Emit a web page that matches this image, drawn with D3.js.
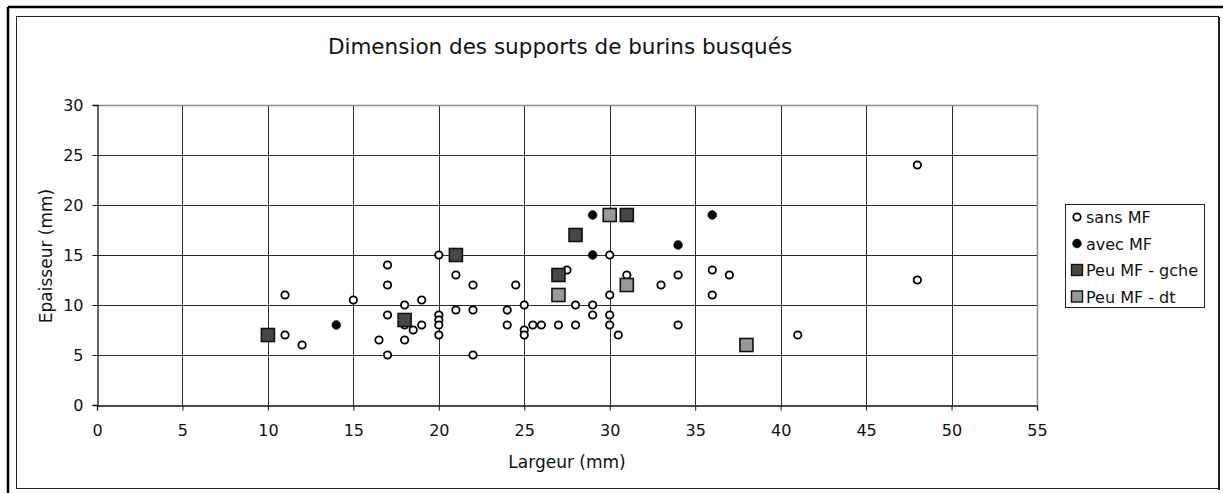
<!DOCTYPE html>
<html>
<head>
<meta charset="utf-8">
<script src="https://cdn.jsdelivr.net/npm/d3@7"></script>
<style>
  html, body { margin: 0; padding: 0; background: #fff; }
  svg { display: block; }
  text { font-family: "DejaVu Sans", Verdana, sans-serif; fill: #111; }
</style>
</head>
<body>
<svg id="chart" width="1223" height="493"></svg>
<script>
// Largeur / épaisseur (mm) des supports de burins busqués, par groupe
const sansMF = [
  [11, 11], [11, 7], [12, 6], [15, 10.5], [16.5, 6.5], [17, 14], [17, 12], [17, 9], [17, 5],
  [18, 10], [18, 8], [18, 6.5], [18.5, 7.5], [19, 10.5], [19, 8], [20, 15], [20, 9], [20, 8.5],
  [20, 8], [20, 7], [21, 13], [21, 9.5], [22, 12], [22, 9.5], [22, 5], [24, 9.5], [24, 8],
  [24.5, 12], [25, 10], [25, 7.5], [25, 7], [25.5, 8], [26, 8], [27, 8], [27.5, 13.5], [28, 10],
  [28, 8], [29, 10], [29, 9], [30, 15], [30, 11], [30, 9], [30, 8], [30.5, 7], [31, 13],
  [33, 12], [34, 13], [34, 8], [36, 13.5], [36, 11], [37, 13], [41, 7], [48, 24], [48, 12.5]
];
const avecMF = [[14, 8], [29, 19], [29, 15], [34, 16], [36, 19]];
const peuMFgche = [[10, 7], [18, 8.5], [21, 15], [27, 13], [28, 17], [31, 19]];
const peuMFdt = [[27, 11], [30, 19], [31, 12], [38, 6]];

const seriesNames = ["sans MF", "avec MF", "Peu MF - gche", "Peu MF - dt"];
const xTicks = [0, 5, 10, 15, 20, 25, 30, 35, 40, 45, 50, 55];
const yTicks = [0, 5, 10, 15, 20, 25, 30];

const titleText = "Dimension des supports de burins busqués";
const xTitle = "Largeur (mm)";
const yTitle = "Epaisseur (mm)";

const svg = d3.select("#chart");

// frame around the chart
svg.append("line").attr("x1", 8).attr("x2", 1223).attr("y1", 7).attr("y2", 7)
  .attr("stroke", "#000").attr("stroke-width", 2.5);
svg.append("line").attr("x1", 8).attr("x2", 8).attr("y1", 7).attr("y2", 493)
  .attr("stroke", "#000").attr("stroke-width", 2.5);
svg.append("rect").attr("x", 16.5).attr("y", 16.5).attr("width", 1202).attr("height", 472)
  .attr("fill", "#fff").attr("stroke", "#222").attr("stroke-width", 1);
svg.append("line").attr("x1", 1219).attr("x2", 1219).attr("y1", 17).attr("y2", 490)
  .attr("stroke", "#222").attr("stroke-width", 2);

const plot = { left: 97, right: 1037, top: 105, bottom: 405 };

const x = d3.scaleLinear().domain([0, 55]).range([plot.left, plot.right]);
const y = d3.scaleLinear().domain([0, 30]).range([plot.bottom, plot.top]);

// gridlines
const grid = svg.append("g");
grid.selectAll("line.v").data(xTicks.filter(t => t > 0 && t < 55)).join("line")
  .attr("x1", d => Math.round(x(d)) + 0.5).attr("x2", d => Math.round(x(d)) + 0.5)
  .attr("y1", plot.top).attr("y2", plot.bottom)
  .attr("stroke", "#2a2a2a").attr("stroke-width", 1);
grid.selectAll("line.h").data(yTicks.filter(t => t > 0 && t < 30)).join("line")
  .attr("x1", plot.left).attr("x2", plot.right)
  .attr("y1", d => Math.round(y(d)) + 0.5).attr("y2", d => Math.round(y(d)) + 0.5)
  .attr("stroke", "#2a2a2a").attr("stroke-width", 1);

// plot area border (top / right)
svg.append("line").attr("x1", plot.left).attr("x2", plot.right + 0.5)
  .attr("y1", plot.top + 0.5).attr("y2", plot.top + 0.5).attr("stroke", "#8c8c8c").attr("stroke-width", 1.5);
svg.append("line").attr("x1", plot.right + 0.5).attr("x2", plot.right + 0.5)
  .attr("y1", plot.top).attr("y2", plot.bottom).attr("stroke", "#8c8c8c").attr("stroke-width", 1.5);

// axes
const xAxis = d3.axisBottom(x).tickValues(xTicks).tickSize(5).tickPadding(14).tickFormat(d3.format("d"));
const yAxis = d3.axisLeft(y).tickValues(yTicks).tickSize(5).tickPadding(9).tickFormat(d3.format("d"));

const gx = svg.append("g").attr("transform", `translate(0,${plot.bottom + 0.5})`).call(xAxis);
const gy = svg.append("g").attr("transform", `translate(${plot.left + 0.5},0)`).call(yAxis);
[gx, gy].forEach(g => {
  g.select(".domain").attr("stroke", "#111").attr("stroke-width", 1.3);
  g.selectAll(".tick line").attr("stroke", "#111");
  g.selectAll(".tick text").attr("font-size", 16).attr("fill", "#222")
    .attr("font-family", "'DejaVu Sans', Verdana, sans-serif");
});

// titles
svg.append("text").attr("x", 560).attr("y", 54).attr("text-anchor", "middle")
  .attr("font-size", 21.5).text(titleText);
svg.append("text").attr("x", 567).attr("y", 468).attr("text-anchor", "middle")
  .attr("font-size", 17).attr("fill", "#222").text(xTitle);
svg.append("text").attr("transform", "translate(52,256) rotate(-90)").attr("text-anchor", "middle")
  .attr("font-size", 17).attr("fill", "#222").text(yTitle);

// point styles
const styles = [
  { type: "circle", r: 3.7, fill: "#fff", stroke: "#000", sw: 1.8 },
  { type: "circle", r: 4.4, fill: "#000", stroke: "#000", sw: 0.5 },
  { type: "square", s: 13, fill: "#474747", stroke: "#111", sw: 1.6 },
  { type: "square", s: 13, fill: "#999", stroke: "#111", sw: 1.6 }
];
const allSeries = [sansMF, avecMF, peuMFgche, peuMFdt];

const marks = svg.append("g");
allSeries.forEach((data, i) => {
  const st = styles[i];
  const g = marks.append("g");
  if (st.type === "circle") {
    g.selectAll("circle").data(data).join("circle")
      .attr("cx", d => x(d[0])).attr("cy", d => y(d[1])).attr("r", st.r)
      .attr("fill", st.fill).attr("stroke", st.stroke).attr("stroke-width", st.sw);
  } else {
    g.selectAll("rect").data(data).join("rect")
      .attr("x", d => x(d[0]) - st.s / 2).attr("y", d => y(d[1]) - st.s / 2)
      .attr("width", st.s).attr("height", st.s)
      .attr("fill", st.fill).attr("stroke", st.stroke).attr("stroke-width", st.sw);
  }
});

// legend
const legend = svg.append("g");
legend.append("rect").attr("x", 1065.5).attr("y", 204.5).attr("width", 139).attr("height", 103)
  .attr("fill", "#fff").attr("stroke", "#222").attr("stroke-width", 1);
seriesNames.forEach((name, i) => {
  const cy = 217 + i * 26.5;
  const st = styles[i];
  if (st.type === "circle") {
    legend.append("circle").attr("cx", 1077).attr("cy", cy).attr("r", st.r)
      .attr("fill", st.fill).attr("stroke", st.stroke).attr("stroke-width", st.sw);
  } else {
    legend.append("rect").attr("x", 1071.5).attr("y", cy - 5.5).attr("width", 11).attr("height", 11)
      .attr("fill", st.fill).attr("stroke", st.stroke).attr("stroke-width", 1.4);
  }
  legend.append("text").attr("x", 1086).attr("y", cy + 6).attr("font-size", 16)
    .attr("fill", "#111").text(name);
});
</script>
</body>
</html>
